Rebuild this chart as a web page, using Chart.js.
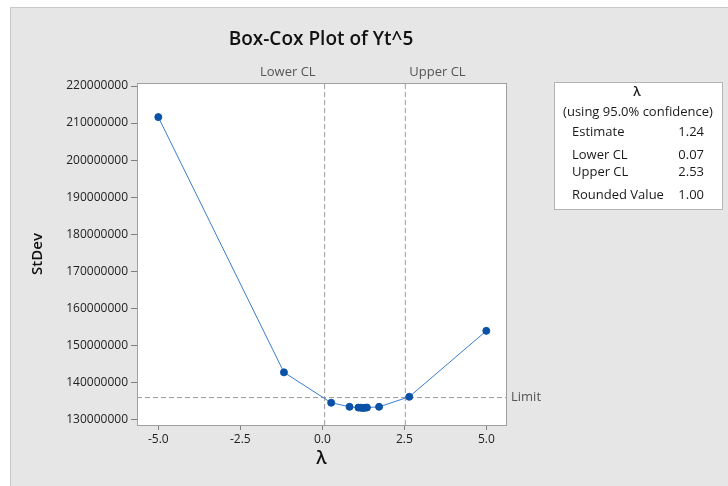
<!DOCTYPE html>
<html>
<head>
<meta charset="utf-8">
<script src="https://cdn.jsdelivr.net/npm/chart.js@4/dist/chart.umd.min.js"></script>
<style>
  html, body { margin: 0; padding: 0; background: #ffffff; }
  #wrap { width: 728px; height: 486px; }
</style>
</head>
<body>
<div id="wrap"><canvas id="c" width="728" height="486"></canvas></div>
<script>
// Box-Cox profile: standard deviation of the transformed data at each lambda
const lambdas = [-5.0, -1.17, 0.27, 0.83, 1.10, 1.17, 1.24, 1.30, 1.36, 1.73, 2.65, 5.0];
const stdevs  = [211.6e6, 142.7e6, 134.5e6, 133.4e6, 133.2e6, 133.15e6, 133.1e6, 133.15e6, 133.2e6, 133.4e6, 136.1e6, 153.9e6];

// Confidence interval summary
const lowerCL = 0.07;
const upperCL = 2.53;
const estimate = 1.24;
const roundedValue = 1.00;
const limitValue = 135.9e6;

// Axis ticks
const xTicks = [-5.0, -2.5, 0.0, 2.5, 5.0];
const yTicks = [130e6, 140e6, 150e6, 160e6, 170e6, 180e6, 190e6, 200e6, 210e6, 220e6];

const xMin = -5.65, xMax = 5.6;
const yMin = 128.49e6, yMax = 220.81e6;

const FONT = "'Open Sans', 'DejaVu Sans', sans-serif";

const points = lambdas.map((x, i) => ({ x: x, y: stdevs[i] }));

const decor = {
  id: 'decor',
  beforeDraw(chart) {
    const { ctx, chartArea: a } = chart;
    ctx.save();
    ctx.fillStyle = '#ffffff';
    ctx.fillRect(0, 0, chart.width, chart.height);
    // grey panel
    ctx.fillStyle = '#e6e6e6';
    ctx.fillRect(10, 7, chart.width - 10, chart.height - 7);
    ctx.strokeStyle = '#c8c8c8';
    ctx.lineWidth = 1;
    ctx.beginPath();
    ctx.moveTo(10.5, chart.height);
    ctx.lineTo(10.5, 7.5);
    ctx.lineTo(chart.width, 7.5);
    ctx.stroke();
    // plot area
    ctx.fillStyle = '#ffffff';
    ctx.fillRect(a.left, a.top, a.right - a.left, a.bottom - a.top);
    ctx.restore();
  },
  afterDraw(chart) {
    const { ctx, chartArea: a, scales } = chart;
    const xs = scales.x, ys = scales.y;
    ctx.save();
    // plot frame
    ctx.strokeStyle = '#a0a0a0';
    ctx.lineWidth = 1;
    ctx.strokeRect(Math.round(a.left) + 0.5, Math.round(a.top) + 0.5,
                   Math.round(a.right - a.left), Math.round(a.bottom - a.top));

    // title
    ctx.fillStyle = '#111111';
    ctx.textBaseline = 'middle';
    ctx.textAlign = 'center';
    ctx.font = '600 19px ' + FONT;
    ctx.fillText('Box-Cox Plot of Yt^5', 321, 40);

    // reference line labels
    ctx.fillStyle = '#555555';
    ctx.font = '13px ' + FONT;
    ctx.textAlign = 'right';
    ctx.fillText('Lower CL', xs.getPixelForValue(lowerCL) - 9, 72);
    ctx.textAlign = 'left';
    ctx.fillText('Upper CL', xs.getPixelForValue(upperCL) + 4, 72);
    ctx.fillText('Limit', a.right + 5, ys.getPixelForValue(limitValue));

    // lambda summary box
    const bx = 554, by = 82, bw = 168, bh = 127;
    ctx.fillStyle = '#ffffff';
    ctx.fillRect(bx, by, bw, bh);
    ctx.strokeStyle = '#b4b4b4';
    ctx.strokeRect(bx + 0.5, by + 0.5, bw, bh);
    ctx.fillStyle = '#1a1a1a';
    ctx.font = '600 13px ' + FONT;
    ctx.textAlign = 'center';
    ctx.fillText('λ', 637, 92);
    ctx.font = '13px ' + FONT;
    ctx.fillText('(using 95.0% confidence)', 638, 112);
    const rows = [
      ['Estimate', estimate, 132],
      ['Lower CL', lowerCL, 155],
      ['Upper CL', upperCL, 172],
      ['Rounded Value', roundedValue, 195]
    ];
    rows.forEach(r => {
      ctx.textAlign = 'left';
      ctx.fillText(r[0], 572, r[2]);
      ctx.textAlign = 'right';
      ctx.fillText(r[1].toFixed(2), 704, r[2]);
    });
    ctx.restore();
  }
};

const dashStyle = {
  borderColor: '#9a9a9a',
  borderWidth: 1,
  borderDash: [5, 3],
  pointRadius: 0,
  showLine: true,
  fill: false,
  order: 2
};

new Chart(document.getElementById('c'), {
  type: 'scatter',
  data: {
    datasets: [
      {
        label: 'StDev',
        data: points,
        showLine: true,
        borderColor: '#3a7dcc',
        borderWidth: 1,
        backgroundColor: '#0a52a6',
        pointBackgroundColor: '#0a52a6',
        pointBorderColor: '#0a52a6',
        pointRadius: 3.5,
        tension: 0,
        order: 0
      },
      Object.assign({ label: 'Lower CL', data: [{ x: lowerCL, y: yMin }, { x: lowerCL, y: yMax }] }, dashStyle),
      Object.assign({ label: 'Upper CL', data: [{ x: upperCL, y: yMin }, { x: upperCL, y: yMax }] }, dashStyle),
      Object.assign({ label: 'Limit', data: [{ x: xMin, y: limitValue }, { x: xMax, y: limitValue }] }, dashStyle)
    ]
  },
  options: {
    responsive: false,
    devicePixelRatio: 1,
    animation: false,
    layout: { padding: { left: 0, top: 83, right: 222, bottom: 0 } },
    plugins: {
      legend: { display: false },
      tooltip: { enabled: false },
      title: { display: false }
    },
    scales: {
      x: {
        type: 'linear',
        min: xMin,
        max: xMax,
        afterBuildTicks: s => { s.ticks = xTicks.map(v => ({ value: v })); },
        afterFit: s => { s.height = 61; },
        border: { display: false },
        grid: { drawOnChartArea: false, drawTicks: true, tickLength: 5, color: '#808080' },
        ticks: {
          autoSkip: false,
          maxRotation: 0,
          padding: 2,
          color: '#222222',
          font: { family: FONT, size: 12 },
          callback: v => v.toFixed(1)
        },
        title: {
          display: true,
          text: 'λ',
          color: '#111111',
          font: { family: FONT, size: 18, weight: '600' },
          padding: { top: 0, bottom: 16 }
        }
      },
      y: {
        type: 'linear',
        min: yMin,
        max: yMax,
        afterBuildTicks: s => { s.ticks = yTicks.map(v => ({ value: v })); },
        afterFit: s => { s.width = 137; },
        border: { display: false },
        grid: { drawOnChartArea: false, drawTicks: true, tickLength: 6, color: '#808080' },
        ticks: {
          autoSkip: false,
          padding: 3,
          color: '#222222',
          font: { family: FONT, size: 12 },
          callback: v => String(Math.round(v))
        },
        title: {
          display: true,
          text: 'StDev',
          color: '#111111',
          font: { family: FONT, size: 15, weight: '600' },
          padding: { top: 29, bottom: 0 }
        }
      }
    }
  },
  plugins: [decor]
});
</script>
</body>
</html>
